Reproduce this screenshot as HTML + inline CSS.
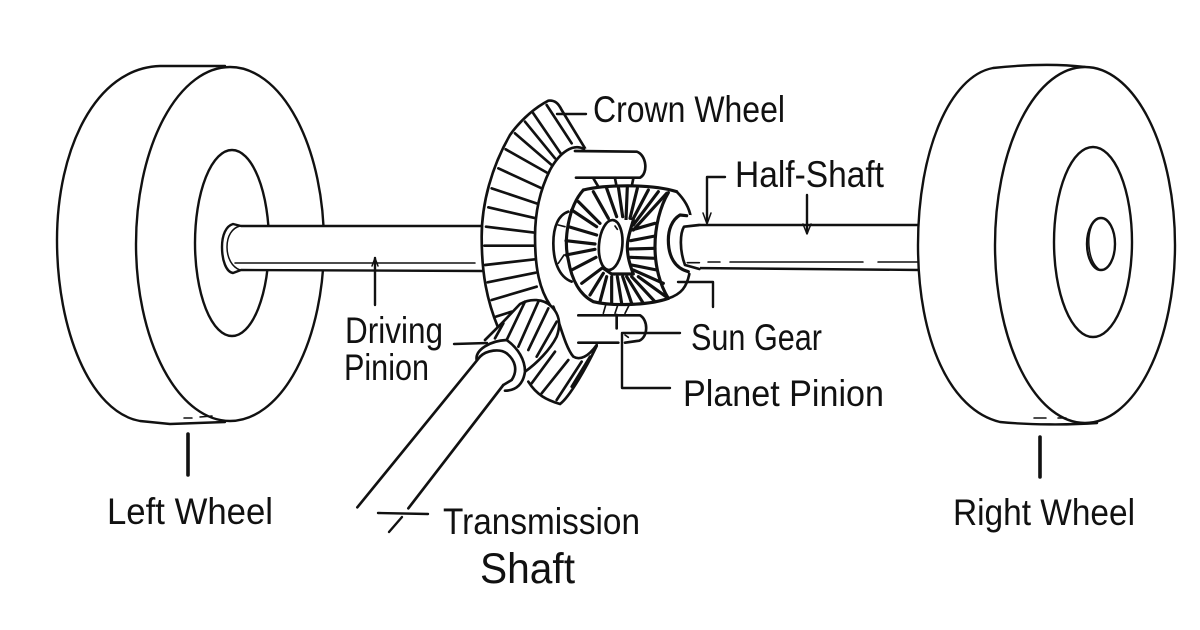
<!DOCTYPE html>
<html><head><meta charset="utf-8"><style>
html,body{margin:0;padding:0;background:#fff;width:1200px;height:630px;overflow:hidden}
svg{display:block}
text{font-family:"Liberation Sans",sans-serif;font-size:37px;fill:#111}
.l{fill:none;stroke:#111;stroke-width:2.4;stroke-linecap:round;stroke-linejoin:round}
.t{fill:none;stroke:#111;stroke-width:1.5;stroke-linecap:round;stroke-linejoin:round}
.z{fill:none;stroke:#111;stroke-width:8;stroke-linecap:round;stroke-linejoin:round}
.g{fill:none;stroke:#111;stroke-width:9.5;stroke-linecap:round;stroke-linejoin:round}
.n{fill:none;stroke:#111;stroke-width:5;stroke-linecap:round;stroke-linejoin:round}
.f{fill:#fff;stroke:none}
.w{fill:#fff}
</style></head><body>
<svg width="1200" height="630" viewBox="0 0 1200 630" xmlns="http://www.w3.org/2000/svg">
<rect width="1200" height="630" fill="#fff"/>

<!-- left wheel -->
<path class="l w" d="M225 66 L160 66 C95 68 57 150 57 240 C57 330 90 412 140 421 L170 424 L225 422"/>
<ellipse class="l w" cx="230" cy="244" rx="94" ry="177"/>
<ellipse class="l" cx="232" cy="243" rx="37" ry="93"/>
<path class="t" d="M184 418L192 418M200 417L212 416"/>
<!-- left axle -->
<path class="l w" d="M482 226 L241 226 L233 224 C226 226 222 235 222 247 C222 260 226 272 233 273 L241 270 L482 271"/>
<path class="t" d="M235 263 L475 263"/>
<path class="t" d="M240 226 C232 228 227 236 227 247 C227 258 232 267 240 270"/>

<!-- right half shaft -->
<path class="l" d="M682 225 L920 225 M690 268 L920 270"/>
<path class="t" d="M687 262 L698 262 M708 262 L720 262 M730 262 L863 262 M878 262 L918 262"/>

<!-- right wheel -->
<path class="l w" d="M1085 67 C1060 64 1030 64 993 68 C950 76 918 150 918 245 C918 340 950 410 1000 422 C1030 425 1070 425 1097 423 Z"/>
<ellipse class="l w" cx="1085" cy="245" rx="90" ry="178"/>
<ellipse class="l" cx="1093" cy="242" rx="39" ry="95"/>
<ellipse class="l" cx="1101" cy="244" rx="14" ry="26"/>
<path class="t" d="M1098 218 C1091 222 1088 234 1089 246 C1090 258 1094 266 1100 270"/>
<path class="t" d="M1034 418L1046 418M1058 418L1066 418"/>

<!-- centre in 3x coordinates -->
<g transform="translate(440 80) scale(.33333)">
  <!-- crown -->
  <path class="f" d="M345 62 C330 55 315 62 280 85 C245 110 210 165 185 215 C155 290 125 380 125 470 C125 580 140 660 175 745 L330 680 L440 210 L365 90 Z"/>
  <path class="z" d="M435 205 L365 90 C355 70 345 60 325 62 C290 80 245 115 210 165 C155 260 125 370 125 470 C125 580 140 660 175 745"/>
  <path class="z" d="M320 75L395 190M280 100L362 220M255 125L345 235M225 160L335 255M197 208L328 282M175 265L305 325M155 325L295 372M145 382L288 415M138 440L285 458M133 497L283 497M135 555L285 538M143 607L287 578M155 660L290 620M168 710L215 695"/>
  <!-- rear pinion cone -->
  <path class="f" d="M270 915 C290 945 320 960 360 972 C385 955 440 860 470 800 L350 770 Z"/>
  <path class="z" d="M265 905 C290 945 320 960 360 972 C390 950 440 860 470 798"/>
  <path class="z" d="M275 910L345 815M305 940L385 840M350 960L425 845M395 920L450 830"/>
  <!-- carrier -->
  <path class="f" d="M430 205 C400 190 360 215 330 270 C300 330 285 400 285 470 C285 570 300 630 330 675 C350 720 370 800 400 830 C420 838 440 830 470 795 L600 785 C625 740 620 706 600 706 L500 660 L460 300 L605 293 C625 260 620 215 590 214 Z"/>
  <path class="z" d="M432 207 C400 190 360 215 330 270 C300 330 285 400 285 470 C285 570 300 630 330 675"/>
  <path class="z" d="M340 680 C360 730 375 800 400 830 C420 842 445 830 470 795"/>
  <path class="z" d="M405 213 L590 215 C620 225 625 280 600 293 L408 293"/>
  <path class="z" d="M460 295L475 320M525 295L530 320M580 295L575 320"/>
  <path class="z" d="M415 706L600 706C625 720 625 770 598 782L555 788M415 788L535 788M530 705L530 745"/>
  <path class="n" d="M500 665L490 700M535 670L525 700M570 670L555 700M555 765L565 772"/>
  <!-- pinion gear -->
  <path class="f" d="M135 780 L190 725 L240 670 C270 655 310 655 335 680 C355 700 365 730 350 770 C330 810 290 850 255 875 L200 860 Z"/>
  <path class="z" d="M135 780 L190 725 L240 672 C270 655 310 655 335 680 C355 700 365 730 350 770 C330 810 290 850 255 875"/>
  <path class="z" d="M255 665L200 780M295 665L235 800M325 685L265 810M350 725L290 830M190 730L165 775"/>
</g>

<!-- shaft + collar, 3x coordinates from (330,300) -->
<g transform="translate(330 300) scale(.33333)">
  <path class="f" d="M440 180 C435 150 480 125 530 120 C565 145 585 180 585 215 C580 250 560 270 525 272 L400 300 Z"/>
  <path class="z" d="M440 180 C435 150 480 122 530 120 C565 145 585 180 585 215 C580 250 560 272 525 272"/>
  <path class="f" d="M450 170 C470 150 510 145 530 160 C555 180 565 210 545 240 L520 255 L235 625 L82 622 Z"/>
  <path class="z" d="M450 170 C470 150 510 145 530 160 C555 180 565 210 545 240 L520 255"/>
  <path class="z" d="M450 170L82 622M520 255L235 625"/>
</g>

<!-- differential gear in 3x coordinates -->
<g transform="translate(540 170) scale(.33333)">
  <path class="f" d="M85 125 C55 135 40 170 40 220 C40 270 55 320 95 335 L130 250 Z"/>
  <path class="z" d="M85 125 C55 135 40 170 40 220 C40 270 55 320 95 335"/>
  <path class="n" d="M55 165L75 170M55 280L72 255"/>
  <path class="f" d="M130 60 C190 45 330 40 410 65 C440 90 452 130 452 165 L450 310 C445 350 425 375 385 385 C330 405 220 410 160 395 C120 375 95 330 85 270 C70 210 85 110 130 60 Z"/>
  <path class="g" d="M130 60 C190 45 330 40 410 65"/>
  <path class="z" d="M410 65 C435 90 448 115 452 140 M448 312 C440 350 425 372 385 385"/>
  <path class="g" d="M385 385 C330 405 220 410 160 395 C120 375 95 330 85 270 C70 210 85 110 130 60"/>
  <path class="g" d="M385 68 C360 110 345 170 345 230 C345 290 360 345 385 385"/>
  <path class="g" d="M115 95L180 160M160 65L205 145M200 55L230 140M235 50L248 140M262 50L258 150M292 55L270 145M325 60L275 155M355 65L280 165M380 70L280 180"/>
  <path class="g" d="M345 160L275 180M345 198L272 212M345 235L270 237M345 265L272 262M350 300L275 285M370 340L280 300"/>
  <path class="g" d="M385 385L295 320M345 395L275 320M310 400L260 320M275 400L248 320M245 400L232 320M215 400L215 320M180 395L200 320M150 375L190 310M125 340L185 295"/>
  <path class="g" d="M95 120L170 170M85 170L170 195M78 212L165 222M78 255L165 238M95 300L168 262"/>
  <path class="f" d="M225 150 L280 150 C268 190 262 210 262 230 C262 260 270 285 280 312 L215 312 L190 295 Z"/>
  <path class="g" d="M280 150 C268 190 262 210 262 230 C262 260 270 285 280 312 L215 312 L190 295"/>
  <ellipse class="z w" cx="212" cy="225" rx="35" ry="75" transform="rotate(5 212 225)"/>
  <path class="n" d="M225 168 L232 178"/>
  <!-- sun gear collar & shaft end -->
  <path class="f" d="M452 135 L420 135 C395 150 385 180 385 210 C385 260 405 295 450 307 L480 300 L480 140 Z"/>
  <path class="g" d="M440 137 L420 135 C395 150 385 180 385 210 C385 260 405 295 445 305"/>
  <path class="f" d="M480 167 L432 170 C420 190 418 240 435 283 L480 298 Z"/>
  <path class="z" d="M478 165L432 170C420 190 418 240 435 285L478 297"/>
  <path class="n" d="M445 305 L448 318"/>
  <path class="n" d="M442 278L478 278"/>
</g>

<!-- leader lines -->
<path class="l" d="M557 114L586 114"/>
<path class="l" d="M725 177L707 177L707 222"/>
<path class="t" d="M703 213L707 224L711 213"/>
<path class="l" d="M807 195L807 233"/>
<path class="t" d="M803 224L807 234L811 224"/>
<path class="l" d="M678 282L713 282L713 307"/>
<path class="l" d="M623 333L680 333"/>
<path class="l" d="M622 333L622 388L670 388"/>
<path class="l" d="M375 258L375 305"/>
<path class="t" d="M372 266L375 258L378 266"/>
<path class="l" d="M454 344L487 343"/>
<path class="l" d="M378 513L428 514"/>
<path class="l" d="M402 517L389 532"/>
<path d="M188 434L188 475M1040 437L1040 477" fill="none" stroke="#111" stroke-width="3.6" stroke-linecap="round"/>

<!-- labels -->
<text x="593" y="122" textLength="192" lengthAdjust="spacingAndGlyphs">Crown Wheel</text>
<text x="735" y="187" textLength="149" lengthAdjust="spacingAndGlyphs">Half-Shaft</text>
<text x="691" y="350" textLength="131" lengthAdjust="spacingAndGlyphs">Sun Gear</text>
<text x="683" y="406" textLength="201" lengthAdjust="spacingAndGlyphs">Planet Pinion</text>
<text x="345" y="343" textLength="98" lengthAdjust="spacingAndGlyphs">Driving</text>
<text x="344" y="380" textLength="85" lengthAdjust="spacingAndGlyphs">Pinion</text>
<text x="107" y="524" textLength="166" lengthAdjust="spacingAndGlyphs">Left Wheel</text>
<text x="953" y="525" textLength="182" lengthAdjust="spacingAndGlyphs">Right Wheel</text>
<text x="443" y="534" textLength="197" lengthAdjust="spacingAndGlyphs">Transmission</text>
<text x="480" y="583" textLength="95" lengthAdjust="spacingAndGlyphs" style="font-size:43px">Shaft</text>
</svg>
</body></html>
